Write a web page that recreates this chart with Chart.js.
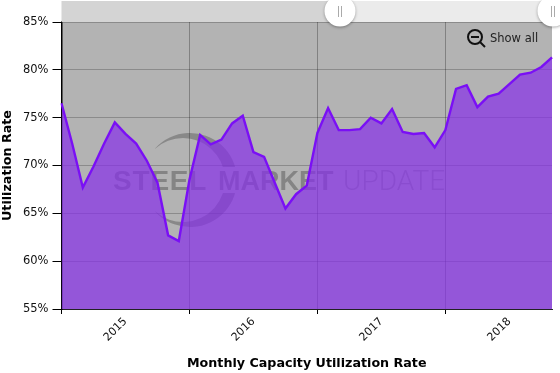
<!DOCTYPE html>
<html><head><meta charset="utf-8">
<style>html,body{margin:0;padding:0;background:#fff}#w{width:560px;height:373px;position:relative}</style>
<script src="https://cdn.jsdelivr.net/npm/chart.js@4"></script>
</head><body><div id="w"><canvas id="c" width="560" height="373"></canvas></div>
<script>
const years = ['2015','2016','2017','2018'];
const monthsPerYear = 12;
const utilization = [76.5,72.3,67.7,69.9,72.3,74.5,73.3,72.3,70.5,68.2,62.7,62.1,
  68.5,73.2,72.2,72.7,74.4,75.2,71.4,70.9,68.2,65.5,67.0,67.9,
  73.4,76.0,73.7,73.7,73.8,75.0,74.4,75.9,73.5,73.3,73.4,71.9,
  73.7,78.0,78.4,76.1,77.2,77.5,78.5,79.5,79.7,80.3,81.3];
const monthLabels = utilization.map((_, i) => years[Math.floor(i / monthsPerYear)] + '-' + String(i % monthsPerYear + 1).padStart(2, '0'));
const yTicks = [55,60,65,70,75,80,85];
const FONT = '"DejaVu Sans", Verdana, sans-serif';

const decor = {
  id: 'decor',
  beforeDraw(ch) {
    const {ctx, chartArea: a} = ch;
    ctx.save();
    ctx.fillStyle = '#fff'; ctx.fillRect(0, 0, 560, 373);
    ctx.fillStyle = '#b3b3b3'; ctx.fillRect(a.left, a.top, a.right - a.left, a.bottom - a.top);
    ctx.restore();
  },
  beforeDatasetsDraw(ch) {
    const {ctx} = ch;
    ctx.save();
    // watermark crescent
    ctx.fillStyle = 'rgba(50,50,50,0.33)';
    ctx.beginPath(); ctx.rect(130, 120, 120, 47); ctx.rect(130, 193, 120, 60); ctx.clip();
    const rad = d => d * Math.PI / 180;
    ctx.beginPath();
    ctx.arc(190, 180, 47, rad(-138), rad(138), false);
    ctx.arc(183, 180, 42, rad(131.7), rad(-131.7), true);
    ctx.closePath();
    ctx.fill();
    ctx.restore();
    ctx.save();
    ctx.fillStyle = 'rgba(50,50,50,0.36)';
    ctx.textBaseline = 'alphabetic'; ctx.textAlign = 'left';
    ctx.font = 'bold 28px "Liberation Sans", Arial, sans-serif';
    ctx.letterSpacing = '0.8px';
    ctx.fillText('STEEL', 113, 190);
    ctx.font = 'bold 27px "Liberation Sans", Arial, sans-serif';
    ctx.letterSpacing = '0px';
    ctx.fillText('MARKET', 218, 190);
    ctx.fillStyle = 'rgba(50,50,50,0.28)';
    ctx.font = '300 28px Roboto, sans-serif';
    ctx.fillText('UPDATE', 343, 190);
    ctx.restore();
  },
  afterDraw(ch) {
    const {ctx, chartArea: a} = ch;
    ctx.save();
    // navigator band
    ctx.fillStyle = '#d4d4d4'; ctx.fillRect(a.left, 1, 340 - a.left, a.top - 1);
    ctx.fillStyle = '#ebebeb'; ctx.fillRect(340, 1, a.right - 340, a.top - 1);
    for (const cx of [340, 553]) {
      ctx.save();
      ctx.shadowColor = 'rgba(0,0,0,0.35)'; ctx.shadowBlur = 3; ctx.shadowOffsetY = 1;
      ctx.fillStyle = '#fff';
      ctx.beginPath(); ctx.arc(cx, 11, 15.5, 0, Math.PI * 2); ctx.fill();
      ctx.restore();
      ctx.strokeStyle = '#aaa'; ctx.lineWidth = 1;
      for (const dx of [-1.5, 1.5]) {
        ctx.beginPath(); ctx.moveTo(cx + dx, 6); ctx.lineTo(cx + dx, 17); ctx.stroke();
      }
    }
    // zoom-out icon
    ctx.strokeStyle = '#111'; ctx.lineWidth = 2;
    ctx.beginPath(); ctx.arc(475, 37, 7, 0, Math.PI * 2); ctx.stroke();
    ctx.beginPath(); ctx.moveTo(471, 37); ctx.lineTo(479, 37); ctx.stroke();
    ctx.beginPath(); ctx.moveTo(480, 42); ctx.lineTo(485, 47); ctx.stroke();
    ctx.fillStyle = '#222'; ctx.font = '11.5px ' + FONT;
    ctx.textAlign = 'left'; ctx.textBaseline = 'alphabetic';
    ctx.fillText('Show all', 490, 42);
    ctx.restore();
  }
};

new Chart(document.getElementById('c'), {
  type: 'line',
  data: { labels: monthLabels, datasets: [{
    data: utilization, borderColor: '#7a0ff5', borderWidth: 2.4,
    backgroundColor: 'rgba(135,47,233,0.7)', fill: 'start',
    pointRadius: 0, tension: 0, borderJoinStyle: 'miter'
  }]},
  plugins: [decor],
  options: {
    responsive: false, animation: false, devicePixelRatio: 1,
    layout: { padding: { top: 22, right: 8, left: 0, bottom: 2 } },
    plugins: { legend: { display: false }, tooltip: { enabled: false } },
    scales: {
      x: {
        type: 'category', offset: false,
        afterFit(s) { s.height = 62; s.paddingRight = 0; s.paddingLeft = 0; },
        border: { display: true, color: '#222', width: 1 },
        grid: {
          drawOnChartArea: true, tickLength: 5,
          color: c => c.index % monthsPerYear === 0 ? 'rgba(0,0,0,0.28)' : 'rgba(0,0,0,0)',
          tickColor: c => c.index % monthsPerYear === 0 ? '#000' : 'rgba(0,0,0,0)'
        },
        ticks: {
          autoSkip: false, minRotation: 45, maxRotation: 45, padding: 1,
          color: '#111', font: { family: FONT, size: 11 },
          callback(v, i) { return i % monthsPerYear === 6 ? years[Math.floor(i / monthsPerYear)] : ''; }
        },
        title: { display: true, text: 'Monthly Capacity Utilization Rate', color: '#000',
          font: { family: FONT, size: 12.7, weight: 'bold' }, padding: { top: 0, bottom: 0 } }
      },
      y: {
        min: 55, max: 85,
        afterBuildTicks(s) { s.ticks = yTicks.map(value => ({value})); },
        afterFit(s) { s.width = 61.5; },
        border: { display: true, color: '#000', width: 1.5 },
        grid: { color: 'rgba(0,0,0,0.22)', tickColor: '#000', tickLength: 9 },
        ticks: { padding: 4, color: '#111', font: { family: FONT, size: 11.5 },
          callback: v => v + '%' },
        title: { display: true, text: 'Utilization Rate', color: '#000',
          font: { family: FONT, size: 12.7, weight: 'bold' }, padding: { top: 0, bottom: 0 } }
      }
    }
  }
});
</script></body></html>
